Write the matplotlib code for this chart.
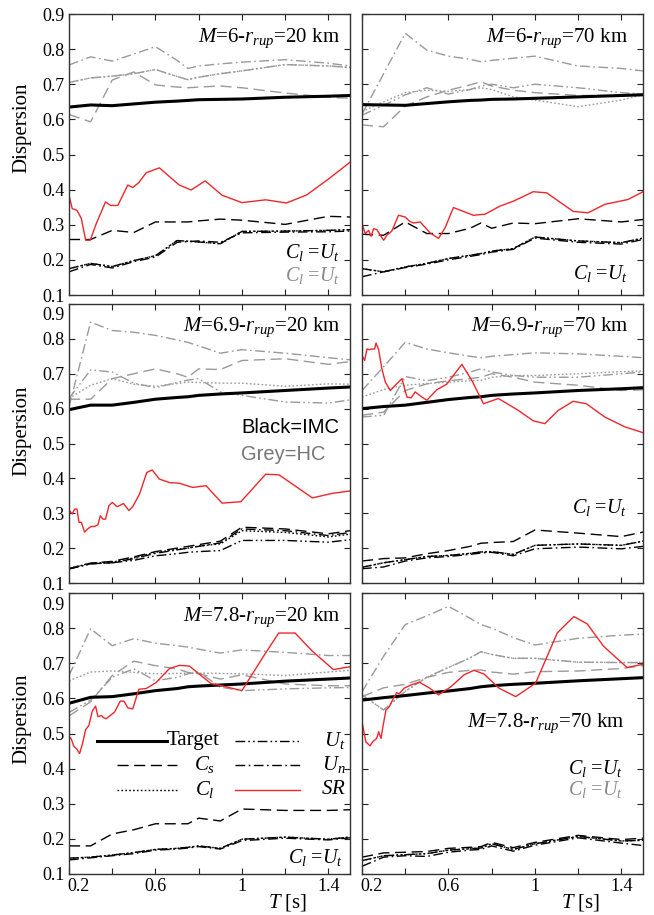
import matplotlib
matplotlib.use("Agg")
import matplotlib.pyplot as plt
from matplotlib.transforms import ScaledTranslation

plt.rcParams['font.family'] = ['Liberation Serif', 'DejaVu Serif']
plt.rcParams['mathtext.fontset'] = 'custom'
plt.rcParams['mathtext.rm'] = 'Liberation Serif'
plt.rcParams['mathtext.it'] = 'Liberation Serif:italic'

# periods of the smoothed series [s]
T = [0.2, 0.3, 0.4, 0.5, 0.6, 0.7, 0.75, 0.8, 0.9, 1.0, 1.2, 1.4, 1.5]

# M=6, r=20 km
m6_r20 = dict(
    target=[0.635, 0.641, 0.639, 0.644, 0.649, 0.652, 0.654, 0.656, 0.657, 0.658, 0.663, 0.666, 0.668],
    cs=[0.258, 0.258, 0.284, 0.278, 0.308, 0.308, 0.308, 0.311, 0.316, 0.313, 0.301, 0.324, 0.322],
    cl=[0.175, 0.19, 0.181, 0.198, 0.212, 0.255, 0.253, 0.251, 0.246, 0.281, 0.282, 0.284, 0.286],
    ut=[0.175, 0.19, 0.181, 0.198, 0.212, 0.255, 0.253, 0.251, 0.246, 0.281, 0.282, 0.284, 0.286],
    un=[0.166, 0.187, 0.177, 0.195, 0.208, 0.25, 0.252, 0.254, 0.25, 0.277, 0.279, 0.28, 0.282],
    g_cs=[0.614, 0.593, 0.712, 0.735, 0.698, 0.692, 0.69, 0.692, 0.695, 0.69, 0.675, 0.663, 0.66],
    g_cl=[0.705, 0.718, 0.723, 0.73, 0.742, 0.722, 0.713, 0.72, 0.73, 0.738, 0.756, 0.752, 0.748],
    g_ut=[0.705, 0.718, 0.723, 0.73, 0.742, 0.722, 0.713, 0.72, 0.73, 0.738, 0.756, 0.752, 0.748],
    g_un=[0.755, 0.778, 0.766, 0.786, 0.807, 0.768, 0.745, 0.752, 0.758, 0.763, 0.77, 0.76, 0.752],
)
sr_t_m6_r20 = [0.2, 0.215, 0.237, 0.257, 0.277, 0.298, 0.326, 0.369, 0.392, 0.426, 0.472, 0.495, 0.523,
               0.557, 0.618, 0.71, 0.765, 0.83, 0.908, 1.0, 1.11, 1.206, 1.3, 1.4, 1.5]
sr_m6_r20 = [0.384, 0.346, 0.341, 0.318, 0.256, 0.256, 0.303, 0.365, 0.355, 0.355, 0.413, 0.406, 0.42,
             0.448, 0.462, 0.413, 0.399, 0.425, 0.384, 0.363, 0.371, 0.362, 0.385, 0.43, 0.478]

# M=6, r=70 km
m6_r70 = dict(
    target=[0.642, 0.641, 0.64, 0.645, 0.65, 0.654, 0.655, 0.657, 0.658, 0.66, 0.664, 0.668, 0.67],
    cs=[0.273, 0.27, 0.308, 0.275, 0.275, 0.29, 0.305, 0.29, 0.305, 0.303, 0.317, 0.308, 0.315],
    cl=[0.175, 0.166, 0.18, 0.19, 0.204, 0.213, 0.218, 0.225, 0.232, 0.265, 0.254, 0.249, 0.262],
    ut=[0.175, 0.166, 0.18, 0.19, 0.204, 0.213, 0.218, 0.225, 0.232, 0.265, 0.254, 0.249, 0.262],
    un=[0.152, 0.166, 0.178, 0.188, 0.2, 0.21, 0.215, 0.222, 0.23, 0.262, 0.25, 0.245, 0.258],
    g_cs=[0.584, 0.579, 0.638, 0.664, 0.683, 0.698, 0.707, 0.695, 0.683, 0.676, 0.668, 0.668, 0.672],
    g_cl=[0.622, 0.65, 0.676, 0.683, 0.68, 0.685, 0.69, 0.685, 0.664, 0.655, 0.636, 0.655, 0.67],
    g_ut=[0.612, 0.64, 0.67, 0.69, 0.672, 0.685, 0.695, 0.7, 0.69, 0.7, 0.69, 0.676, 0.672],
    g_un=[0.615, 0.73, 0.845, 0.797, 0.78, 0.771, 0.764, 0.768, 0.774, 0.78, 0.752, 0.745, 0.738],
)
sr_t_m6_r70 = [0.2, 0.215, 0.231, 0.242, 0.254, 0.269, 0.285, 0.3, 0.315, 0.338, 0.369, 0.4, 0.42, 0.438,
               0.469, 0.515, 0.554, 0.585, 0.623, 0.715, 0.769, 0.838, 0.9, 0.992, 1.054, 1.177, 1.246,
               1.323, 1.431, 1.5]
sr_m6_r70 = [0.303, 0.275, 0.284, 0.267, 0.289, 0.286, 0.27, 0.256, 0.27, 0.282, 0.327, 0.322, 0.31, 0.305,
             0.308, 0.277, 0.261, 0.292, 0.349, 0.327, 0.33, 0.353, 0.367, 0.394, 0.391, 0.338, 0.334,
             0.358, 0.372, 0.394]

# M=6.9, r=20 km
m69_r20 = dict(
    target=[0.597, 0.61, 0.61, 0.618, 0.627, 0.632, 0.634, 0.638, 0.642, 0.645, 0.652, 0.659, 0.662],
    cs=[0.141, 0.157, 0.162, 0.175, 0.19, 0.2, 0.205, 0.21, 0.22, 0.26, 0.255, 0.241, 0.25],
    cl=[0.142, 0.157, 0.16, 0.172, 0.188, 0.196, 0.2, 0.206, 0.212, 0.25, 0.245, 0.232, 0.24],
    ut=[0.14, 0.155, 0.158, 0.165, 0.178, 0.184, 0.188, 0.19, 0.193, 0.222, 0.222, 0.217, 0.224],
    un=[0.141, 0.155, 0.158, 0.17, 0.185, 0.195, 0.2, 0.205, 0.215, 0.255, 0.25, 0.236, 0.245],
    g_cs=[0.627, 0.627, 0.686, 0.7, 0.714, 0.7, 0.69, 0.714, 0.712, 0.738, 0.743, 0.727, 0.735],
    g_cl=[0.629, 0.667, 0.686, 0.67, 0.664, 0.672, 0.676, 0.675, 0.673, 0.673, 0.664, 0.671, 0.67],
    g_ut=[0.629, 0.711, 0.705, 0.673, 0.66, 0.675, 0.682, 0.686, 0.648, 0.638, 0.619, 0.616, 0.625],
    g_un=[0.605, 0.848, 0.824, 0.819, 0.81, 0.797, 0.79, 0.78, 0.759, 0.769, 0.759, 0.746, 0.74],
)
sr_t_m69_r20 = [0.2, 0.215, 0.226, 0.237, 0.246, 0.257, 0.272, 0.288, 0.303, 0.318, 0.334, 0.345, 0.357,
                0.369, 0.385, 0.4, 0.422, 0.434, 0.452, 0.477, 0.495, 0.526, 0.56, 0.585, 0.618, 0.665,
                0.711, 0.772, 0.834, 0.908, 0.995, 1.11, 1.172, 1.326, 1.418, 1.5]
sr_m69_r20 = [0.309, 0.298, 0.312, 0.312, 0.274, 0.274, 0.246, 0.256, 0.262, 0.262, 0.267, 0.293, 0.283,
              0.283, 0.322, 0.331, 0.319, 0.322, 0.328, 0.308, 0.319, 0.355, 0.417, 0.424, 0.398, 0.388,
              0.386, 0.374, 0.379, 0.329, 0.333, 0.412, 0.41, 0.344, 0.357, 0.364]

# M=6.9, r=70 km
m69_r70 = dict(
    target=[0.6, 0.606, 0.61, 0.618, 0.626, 0.632, 0.634, 0.638, 0.642, 0.645, 0.652, 0.657, 0.66],
    cs=[0.163, 0.17, 0.172, 0.184, 0.193, 0.205, 0.214, 0.216, 0.219, 0.252, 0.243, 0.233, 0.246],
    cl=[0.145, 0.158, 0.167, 0.176, 0.179, 0.185, 0.189, 0.19, 0.182, 0.208, 0.212, 0.208, 0.22],
    ut=[0.145, 0.158, 0.167, 0.176, 0.179, 0.185, 0.189, 0.19, 0.182, 0.208, 0.212, 0.208, 0.22],
    un=[0.141, 0.146, 0.163, 0.172, 0.176, 0.182, 0.186, 0.188, 0.178, 0.198, 0.203, 0.198, 0.205],
    g_cs=[0.581, 0.59, 0.652, 0.671, 0.68, 0.686, 0.69, 0.7, 0.69, 0.676, 0.667, 0.652, 0.654],
    g_cl=[0.633, 0.655, 0.667, 0.672, 0.676, 0.68, 0.681, 0.69, 0.695, 0.695, 0.7, 0.706, 0.708],
    g_ut=[0.576, 0.581, 0.692, 0.68, 0.69, 0.705, 0.714, 0.705, 0.695, 0.69, 0.69, 0.7, 0.705],
    g_un=[0.652, 0.72, 0.79, 0.771, 0.76, 0.75, 0.746, 0.75, 0.755, 0.76, 0.757, 0.75, 0.746],
)
sr_t_m69_r70 = [0.2, 0.212, 0.223, 0.234, 0.246, 0.258, 0.265, 0.277, 0.292, 0.308, 0.331, 0.354, 0.385,
                0.408, 0.428, 0.446, 0.477, 0.5, 0.546, 0.592, 0.662, 0.708, 0.762, 0.831, 0.923, 0.992,
                1.046, 1.108, 1.177, 1.238, 1.323, 1.415, 1.5]
sr_m69_r70 = [0.752, 0.738, 0.771, 0.769, 0.771, 0.771, 0.788, 0.769, 0.714, 0.676, 0.652, 0.667, 0.686,
              0.633, 0.631, 0.648, 0.633, 0.624, 0.654, 0.67, 0.727, 0.681, 0.614, 0.629, 0.595, 0.565,
              0.557, 0.595, 0.621, 0.614, 0.576, 0.548, 0.531]

# M=7.8, r=20 km
m78_r20 = dict(
    target=[0.586, 0.603, 0.605, 0.613, 0.622, 0.628, 0.633, 0.635, 0.638, 0.641, 0.649, 0.655, 0.658],
    cs=[0.18, 0.18, 0.214, 0.226, 0.243, 0.243, 0.243, 0.259, 0.251, 0.285, 0.281, 0.281, 0.283],
    cl=[0.145, 0.148, 0.154, 0.161, 0.17, 0.173, 0.176, 0.18, 0.173, 0.199, 0.205, 0.199, 0.205],
    ut=[0.145, 0.148, 0.154, 0.161, 0.17, 0.173, 0.176, 0.18, 0.173, 0.199, 0.205, 0.199, 0.205],
    un=[0.14, 0.146, 0.152, 0.158, 0.168, 0.171, 0.174, 0.178, 0.171, 0.195, 0.202, 0.197, 0.203],
    g_cs=[0.55, 0.59, 0.665, 0.706, 0.693, 0.684, 0.674, 0.67, 0.655, 0.667, 0.641, 0.636, 0.636],
    g_cl=[0.65, 0.675, 0.678, 0.674, 0.67, 0.671, 0.672, 0.672, 0.671, 0.67, 0.665, 0.675, 0.68],
    g_ut=[0.56, 0.595, 0.66, 0.684, 0.65, 0.66, 0.67, 0.675, 0.632, 0.622, 0.627, 0.63, 0.631],
    g_un=[0.665, 0.798, 0.75, 0.77, 0.757, 0.75, 0.746, 0.74, 0.729, 0.738, 0.731, 0.722, 0.722],
)
sr_t_m78_r20 = [0.2, 0.21, 0.222, 0.237, 0.249, 0.262, 0.277, 0.292, 0.308, 0.323, 0.334, 0.35, 0.36,
                0.372, 0.388, 0.411, 0.437, 0.455, 0.472, 0.495, 0.523, 0.557, 0.603, 0.665, 0.711,
                0.757, 0.857, 0.9, 1.0, 1.1, 1.17, 1.246, 1.323, 1.423, 1.5]
sr_m78_r20 = [0.492, 0.485, 0.464, 0.455, 0.443, 0.47, 0.511, 0.523, 0.564, 0.578, 0.548, 0.551, 0.545,
              0.542, 0.55, 0.561, 0.592, 0.592, 0.573, 0.57, 0.626, 0.628, 0.645, 0.685, 0.694,
              0.692, 0.642, 0.637, 0.622, 0.72, 0.786, 0.786, 0.736, 0.682, 0.69]

# M=7.8, r=70 km
m78_r70 = dict(
    target=[0.595, 0.602, 0.608, 0.615, 0.621, 0.628, 0.633, 0.636, 0.64, 0.643, 0.65, 0.656, 0.659],
    cs=[0.148, 0.16, 0.162, 0.164, 0.173, 0.176, 0.178, 0.19, 0.175, 0.19, 0.21, 0.198, 0.202],
    cl=[0.138, 0.152, 0.155, 0.158, 0.168, 0.172, 0.174, 0.186, 0.17, 0.186, 0.207, 0.194, 0.196],
    ut=[0.138, 0.152, 0.155, 0.158, 0.168, 0.172, 0.174, 0.186, 0.17, 0.186, 0.207, 0.194, 0.196],
    un=[0.122, 0.148, 0.152, 0.15, 0.162, 0.168, 0.17, 0.18, 0.165, 0.182, 0.203, 0.188, 0.181],
    g_cs=[0.605, 0.63, 0.64, 0.66, 0.674, 0.68, 0.681, 0.675, 0.669, 0.676, 0.678, 0.685, 0.693],
    g_cl=[0.61, 0.567, 0.62, 0.66, 0.688, 0.715, 0.733, 0.725, 0.714, 0.714, 0.703, 0.702, 0.702],
    g_ut=[0.61, 0.567, 0.62, 0.66, 0.688, 0.715, 0.733, 0.725, 0.714, 0.714, 0.703, 0.702, 0.702],
    g_un=[0.619, 0.72, 0.81, 0.835, 0.862, 0.828, 0.81, 0.8, 0.773, 0.752, 0.771, 0.78, 0.783],
)
sr_t_m78_r70 = [0.2, 0.218, 0.237, 0.252, 0.268, 0.277, 0.288, 0.298, 0.311, 0.326, 0.345, 0.36, 0.372,
                0.395, 0.426, 0.465, 0.511, 0.554, 0.611, 0.672, 0.718, 0.765, 0.834, 0.911, 1.003,
                1.103, 1.18, 1.242, 1.318, 1.426, 1.5]
sr_m78_r70 = [0.533, 0.476, 0.465, 0.478, 0.486, 0.505, 0.486, 0.524, 0.567, 0.576, 0.6, 0.616, 0.613,
              0.629, 0.638, 0.646, 0.63, 0.61, 0.633, 0.667, 0.68, 0.669, 0.629, 0.605, 0.643,
              0.786, 0.833, 0.812, 0.748, 0.688, 0.697]

GREY = '#9a9a9a'
RED = '#f0262b'
STYLES = {
    'cs': (0, (8, 4)),
    'cl': (0, (1.2, 1.6)),
    'ut': (0, (7, 2.2, 1.2, 2.2, 1.2, 2.2)),
    'un': (0, (7, 2.5, 1.2, 2.5)),
}

panels = [
    (m6_r20, sr_t_m6_r20, sr_m6_r20, '6', '20'),
    (m6_r70, sr_t_m6_r70, sr_m6_r70, '6', '70'),
    (m69_r20, sr_t_m69_r20, sr_m69_r20, '6.9', '20'),
    (m69_r70, sr_t_m69_r70, sr_m69_r70, '6.9', '70'),
    (m78_r20, sr_t_m78_r20, sr_m78_r20, '7.8', '20'),
    (m78_r70, sr_t_m78_r70, sr_m78_r70, '7.8', '70'),
]

fig = plt.figure(figsize=(6.54, 9.15), dpi=100)
lefts = [69 / 654, 362 / 654]
rows = [(14, 295), (304, 583), (593, 874)]
ylab_y = [0.596, 0.545, 0.552]
axes = []
for r, (top, bot) in enumerate(rows):
    for c in range(2):
        ax = fig.add_axes([lefts[c], 1 - bot / 915, 281 / 654, (bot - top) / 915])
        axes.append(ax)

down = ScaledTranslation(0, -10 / 100, fig.dpi_scale_trans)
right = ScaledTranslation(9 / 100, 0, fig.dpi_scale_trans)

for i, (ax, (d, srt, srv, mag, rup)) in enumerate(zip(axes, panels)):
    for key in ['cs', 'cl', 'ut', 'un']:
        ax.plot(T, d['g_' + key], color=GREY, lw=1.0, linestyle=STYLES[key])
    for key in ['cs', 'cl', 'ut', 'un']:
        ax.plot(T, d[key], color='black', lw=1.0, linestyle=STYLES[key])
    ax.plot(T, d['target'], color='black', lw=2.2)
    ax.plot(srt, srv, color=RED, lw=1.0)

    ax.set_xlim(0.2, 1.5)
    ax.set_ylim(0.1, 0.9)
    ax.set_xticks([0.2, 0.4, 0.6, 0.8, 1.0, 1.2, 1.4])
    ax.set_yticks([0.1, 0.2, 0.3, 0.4, 0.5, 0.6, 0.7, 0.8, 0.9])
    ax.tick_params(direction='in', top=True, right=True, length=4, width=0.8,
                   labelsize=13, pad=3, colors='#222222', labelcolor='black')
    for sp in ax.spines.values():
        sp.set_linewidth(1.0)
        sp.set_color('#333333')
    if i % 2 == 0:
        ax.set_yticklabels(['0.1', '0.2', '0.3', '0.4', '0.5', '0.6', '0.7', '0.8', '0.9'])
        ax.set_ylabel('Dispersion', fontsize=15)
        ax.yaxis.set_label_coords(-0.133, ylab_y[i // 2])
        if i > 0:
            top_lab = ax.get_yticklabels()[-1]
            top_lab.set_transform(top_lab.get_transform() + down)
    else:
        ax.set_yticklabels([])
    if i >= 4:
        ax.set_xticklabels(['0.2', '', '0.6', '', '1', '', '1.4'])
        first = ax.get_xticklabels()[0]
        first.set_transform(first.get_transform() + right)
        ax.text(0.778, -0.1, r'$T$ [s]', transform=ax.transAxes, ha='center', va='center',
                fontsize=15)
    else:
        ax.set_xticklabels([])

    title = r'$M$=' + mag + r'-$r_{rup}$=' + rup + ' km'
    if i == 5:
        ax.text(0.935, 0.537, title, transform=ax.transAxes, ha='right', va='center', fontsize=15)
    else:
        ax.text(0.965 if i % 2 == 0 else 0.947, 0.915, title, transform=ax.transAxes,
                ha='right', va='center', fontsize=15)

eq = r'$C_l$ =$U_t$'
axes[0].text(0.965, 0.15, eq, transform=axes[0].transAxes, ha='right', va='center', fontsize=14.5)
axes[0].text(0.965, 0.071, eq, transform=axes[0].transAxes, ha='right', va='center', fontsize=14.5,
             color='#8a8a8a')
axes[1].text(0.945, 0.078, eq, transform=axes[1].transAxes, ha='right', va='center', fontsize=14.5)
axes[3].text(0.943, 0.269, eq, transform=axes[3].transAxes, ha='right', va='center', fontsize=14.5)
axes[4].text(0.975, 0.06, eq, transform=axes[4].transAxes, ha='right', va='center', fontsize=14.5)
axes[5].text(0.929, 0.377, eq, transform=axes[5].transAxes, ha='right', va='center', fontsize=14.5)
axes[5].text(0.929, 0.299, eq, transform=axes[5].transAxes, ha='right', va='center', fontsize=14.5,
             color='#8a8a8a')

axes[2].text(0.612, 0.556, 'Black=IMC', transform=axes[2].transAxes, ha='left', va='center',
             fontsize=14.5, family='Liberation Sans')
axes[2].text(0.612, 0.459, 'Grey=HC', transform=axes[2].transAxes, ha='left', va='center',
             fontsize=14.5, family='Liberation Sans', color='#777777')

# legend drawn by hand in the lower-left panel
lg = axes[4]
rows_y = [0.474, 0.388, 0.299]
left_items = [('Target', None, 2.2, 'black'), (r'$C_s$', STYLES['cs'], 1.0, 'black'),
              (r'$C_l$', STYLES['cl'], 1.0, 'black')]
right_items = [(r'$U_t$', STYLES['ut'], 1.0, 'black'), (r'$U_n$', STYLES['un'], 1.0, 'black'),
               (r'$SR$', None, 1.0, RED)]
for y, (lab, ls, lw, col) in zip(rows_y, left_items):
    x0 = 0.099 if lab == 'Target' else 0.17
    x1 = 0.348 if lab == 'Target' else 0.383
    lg.plot([x0, x1], [y, y], transform=lg.transAxes, color=col, lw=lw,
            linestyle=ls if ls else '-', clip_on=False)
    lg.text(0.537 if lab == 'Target' else 0.52, y, lab, transform=lg.transAxes, ha='right',
            va='center', fontsize=15)
for y, (lab, ls, lw, col) in zip(rows_y, right_items):
    lg.plot([0.591, 0.822], [y, y], transform=lg.transAxes, color=col, lw=lw,
            linestyle=ls if ls else '-', clip_on=False)
    lg.text(0.985, y, lab, transform=lg.transAxes, ha='right', va='center', fontsize=15)

fig.savefig('out.png', dpi=100)
